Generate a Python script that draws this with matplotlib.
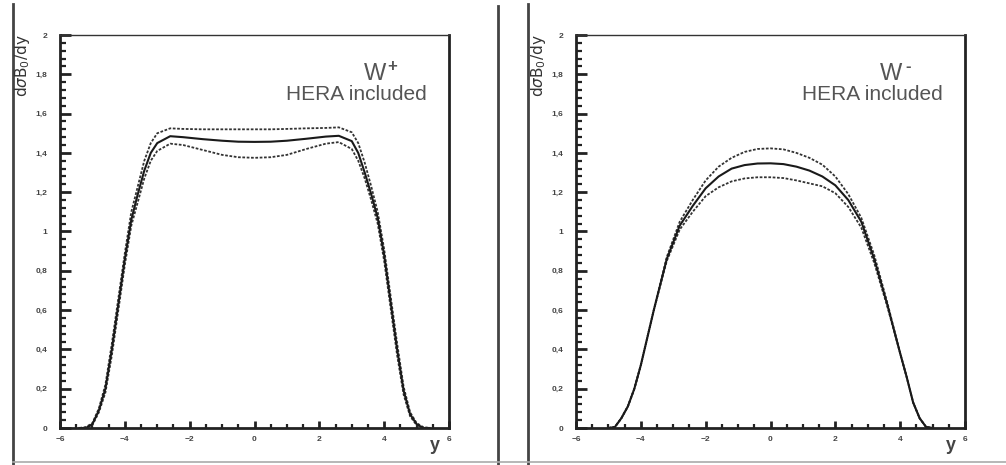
import numpy as np
import matplotlib
matplotlib.use('Agg')
import matplotlib.pyplot as plt
from matplotlib.lines import Line2D
from matplotlib.ticker import MultipleLocator, FixedLocator

# rapidity grid and curves for W+ (central, upper, lower of the PDF band)
y_wplus = [-5.4, -5.2, -5.0, -4.8, -4.6, -4.4, -4.2, -4.0, -3.8, -3.6, -3.4, -3.2, -3.0,
           -2.6, -2.2, -1.6, -1.0, -0.5, 0.0, 0.5, 1.0, 1.6, 2.2, 2.6,
           3.0, 3.2, 3.4, 3.6, 3.8, 4.0, 4.2, 4.4, 4.6, 4.8, 5.0, 5.2, 5.4]
wplus_central = [0, 0.0, 0.02, 0.09, 0.20, 0.40, 0.63, 0.86, 1.06, 1.19, 1.31, 1.40, 1.45,
                 1.485, 1.48, 1.47, 1.462, 1.457, 1.456, 1.457, 1.462, 1.472, 1.483, 1.487,
                 1.46, 1.40, 1.30, 1.19, 1.07, 0.88, 0.64, 0.40, 0.19, 0.07, 0.02, 0.0, 0]
wplus_upper = [0, 0.005, 0.025, 0.10, 0.22, 0.43, 0.66, 0.89, 1.10, 1.23, 1.36, 1.45, 1.50,
               1.525, 1.522, 1.52, 1.52, 1.52, 1.52, 1.52, 1.522, 1.525, 1.527, 1.53,
               1.505, 1.45, 1.35, 1.23, 1.10, 0.91, 0.67, 0.43, 0.21, 0.08, 0.025, 0.005, 0]
wplus_lower = [0, 0, 0.015, 0.08, 0.18, 0.37, 0.60, 0.83, 1.03, 1.15, 1.27, 1.36, 1.41,
               1.447, 1.44, 1.415, 1.39, 1.378, 1.375, 1.378, 1.39, 1.42, 1.447, 1.455,
               1.42, 1.36, 1.27, 1.16, 1.04, 0.85, 0.61, 0.37, 0.17, 0.06, 0.015, 0, 0]

# same for W-
y_wminus = [-5.0, -4.8, -4.6, -4.4, -4.2, -4.0, -3.6, -3.2, -2.8, -2.4, -2.0, -1.6, -1.2,
            -0.8, -0.4, 0.0, 0.4, 0.8, 1.2, 1.6, 2.0, 2.4, 2.8, 3.2, 3.6, 4.0, 4.2, 4.4,
            4.6, 4.8, 5.0]
wminus_central = [0, 0.005, 0.05, 0.11, 0.20, 0.32, 0.60, 0.86, 1.03, 1.13, 1.22, 1.28, 1.32,
                  1.338, 1.346, 1.347, 1.343, 1.33, 1.31, 1.28, 1.235, 1.16, 1.05, 0.86, 0.63,
                  0.38, 0.26, 0.13, 0.05, 0.005, 0]
wminus_upper = [0, 0.005, 0.05, 0.11, 0.20, 0.32, 0.60, 0.87, 1.05, 1.16, 1.26, 1.33, 1.375,
                1.405, 1.42, 1.423, 1.418, 1.40, 1.375, 1.34, 1.28, 1.19, 1.07, 0.88, 0.64,
                0.38, 0.26, 0.13, 0.05, 0.005, 0]
wminus_lower = [0, 0.005, 0.05, 0.11, 0.20, 0.32, 0.60, 0.85, 1.01, 1.10, 1.18, 1.225, 1.255,
                1.27, 1.276, 1.276, 1.272, 1.26, 1.245, 1.23, 1.195, 1.125, 1.02, 0.84, 0.62,
                0.38, 0.26, 0.13, 0.05, 0.005, 0]

y_ticks = [0, 0.2, 0.4, 0.6, 0.8, 1, 1.2, 1.4, 1.6, 1.8, 2]
y_ticklabels = ['0', '0,2', '0,4', '0,6', '0,8', '1', '1,2', '1,4', '1,6', '1,8', '2']
x_ticks = [-6, -4, -2, 0, 2, 4, 6]
x_ticklabels = ['\u22126', '\u22124', '\u22122', '0', '2', '4', '6']

W, H = 1006, 465
fig = plt.figure(figsize=(W / 100, H / 100), dpi=100)
fig.patch.set_facecolor('white')
plt.rcParams['font.family'] = ['Liberation Sans', 'DejaVu Sans']


def px(x, y):
    return x / W, 1 - y / H


def panel(left_px, xs, cen, up, lo, boson, sign, label_x):
    ax = fig.add_axes([left_px / W, (H - 428) / H, 389 / W, 393 / H])
    ax.plot(xs, up, color='#333333', lw=1.3, ls=(0, (1.5, 0.9)))
    ax.plot(xs, lo, color='#333333', lw=1.3, ls=(0, (1.5, 0.9)))
    ax.plot(xs, cen, color='#1a1a1a', lw=1.5)
    ax.set_xlim(-6, 6)
    ax.set_ylim(0, 2)
    for s in ['left', 'bottom', 'right']:
        ax.spines[s].set_linewidth(2.0)
        ax.spines[s].set_color('#222222')
    ax.spines['top'].set_linewidth(1.0)
    ax.spines['top'].set_color('#333333')
    ax.yaxis.set_major_locator(FixedLocator(y_ticks))
    ax.set_yticklabels(y_ticklabels)
    ax.yaxis.set_minor_locator(MultipleLocator(0.04))
    ax.xaxis.set_major_locator(FixedLocator(x_ticks))
    ax.set_xticklabels(x_ticklabels)
    ax.xaxis.set_minor_locator(MultipleLocator(0.5))
    ax.tick_params(axis='both', which='both', direction='in', colors='#222222',
                   labelcolor='#444444', labelsize=6, top=False, right=False)
    ax.tick_params(axis='y', which='major', length=8, width=2.0, pad=9)
    ax.tick_params(axis='y', which='minor', length=4, width=1.6)
    ax.tick_params(axis='x', which='major', length=5, width=2.0, pad=6)
    ax.tick_params(axis='x', which='minor', length=3, width=1.6)
    for t in ax.get_xticklabels() + ax.get_yticklabels():
        t.set_fontweight('bold')
    # labels
    ax.text(0.965, -0.045, 'y', transform=ax.transAxes, fontsize=13, color='#444444',
            fontweight='bold', ha='center', va='center')
    fx, fy = px(label_x, 34)
    fig.text(fx, fy, 'd$\\sigma$B$_0$/dy', rotation=90, fontsize=11, color='#333333',
             ha='center', va='top', family='DejaVu Sans')
    ax.text(0.81, 0.885, boson, transform=ax.transAxes, fontsize=17, color='#555555',
            ha='center', va='baseline')
    ax.text(0.853, 0.92, sign, transform=ax.transAxes, fontsize=12, color='#555555',
            ha='center', va='center', fontweight='bold')
    ax.text(0.943, 0.835, 'HERA included', transform=ax.transAxes, fontsize=15,
            color='#555555', ha='right', va='baseline')
    return ax


ax1 = panel(60, y_wplus, wplus_central, wplus_upper, wplus_lower, 'W', '+', 22)
ax2 = panel(576, y_wminus, wminus_central, wminus_upper, wminus_lower, 'W', '-', 538)

# frame lines of the two scanned panels
for xline, ytop in [(13, 4), (498, 6), (528, 4)]:
    x0, y0 = px(xline, ytop)
    x1, y1 = px(xline, H)
    fig.add_artist(Line2D([x0, x1], [y0, y1], color='#444444', lw=2.0,
                          transform=fig.transFigure))
x0, y0 = px(13, 462)
x1, y1 = px(W, 462)
fig.add_artist(Line2D([x0, x1], [y0, y1], color='#aaaaaa', lw=1.2,
                      transform=fig.transFigure))

fig.savefig('out.png', dpi=100, facecolor='white')
